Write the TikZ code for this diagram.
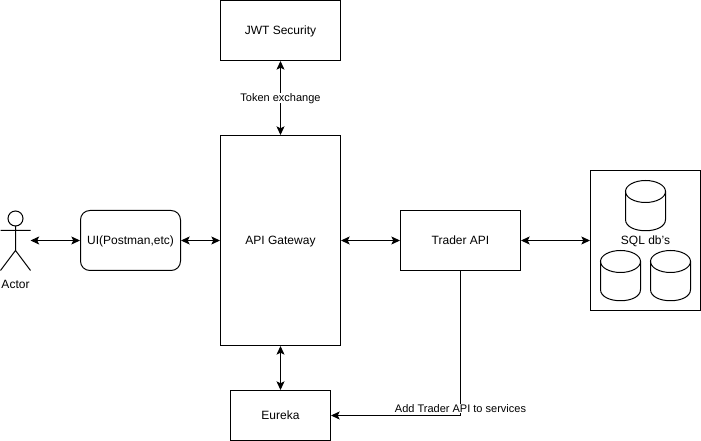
\documentclass[tikz,border=0pt]{standalone}
\usepackage{fontspec}
\setmainfont{Liberation Sans}
\usetikzlibrary{arrows.meta}

\tikzset{
  box/.style={draw, line width=0.75pt, inner sep=0pt, text height=6.5pt, text depth=0pt, font=\fontsize{9pt}{11pt}\selectfont},
  lbl/.style={fill=white, inner sep=0.5pt, text height=6pt, text depth=0pt, font=\fontsize{8.25pt}{10pt}\selectfont},
  link/.style={line width=0.75pt, {Stealth[length=6.5pt,width=6pt,inset=1.5pt]}-{Stealth[length=6.5pt,width=6pt,inset=1.5pt]}},
  oneway/.style={line width=0.75pt, -{Stealth[length=6.5pt,width=6pt,inset=1.5pt]}},
  dbcyl/.pic={
    \draw[line width=0.75pt] (0,-14) ellipse (20 and 11);
    \draw[line width=0.75pt] (-20,-14) -- (-20,14) .. controls (-20,29) and (20,29) .. (20,14) -- (20,-14);
  }
}

\begin{document}
\begin{tikzpicture}[x=0.75pt,y=-0.75pt]
\useasboundingbox (-0.5,-0.5) rectangle (700.5,440.5);

% Boxes
\node[box, minimum width=90pt, minimum height=45pt] (jwt) at (280,30) {JWT Security};
\node[box, minimum width=90pt, minimum height=157.5pt] (gateway) at (280,240) {API Gateway};
\node[box, rounded corners=7pt, minimum width=75pt, minimum height=45pt] (ui) at (130,240) {UI(Postman,etc)};
\node[box, minimum width=90pt, minimum height=45pt] (trader) at (460,240) {Trader API};
\node[box, minimum width=75pt, minimum height=37.5pt] (eureka) at (280,415) {Eureka};
\node[box, minimum width=82.5pt, minimum height=105pt] (sql) at (645,240) {SQL db's};

% Databases inside the SQL box
\pic at (645,205) {dbcyl};
\pic at (620,275) {dbcyl};
\pic at (670,275) {dbcyl};

% Actor
\draw[line width=0.75pt] (15,218) circle (7.5);
\draw[line width=0.75pt] (15,225.5) -- (15,250) (0,230) -- (30,230) (0,270) -- (15,250) -- (30,270);
\node[lbl, font=\fontsize{9pt}{11pt}\selectfont] (actor) at (15,284) {Actor};
\coordinate (actorhand) at (30,240);

% Connectors
\draw[link] (actorhand) -- (ui.west);
\draw[link] (ui.east) -- (ui.east -| gateway.west);
\draw[link] (gateway.east |- trader.west) -- (trader.west);
\draw[link] (trader.east) -- (sql.west);
\draw[link] (jwt.south) -- (gateway.north) node[lbl, midway] (token) {Token exchange};
\draw[link] (gateway.south) -- (eureka.north);
\draw[oneway] (trader.south) |- (eureka.east);
\node[lbl] (addsvc) at (460,408) {Add Trader API to services};

\end{tikzpicture}
\end{document}
